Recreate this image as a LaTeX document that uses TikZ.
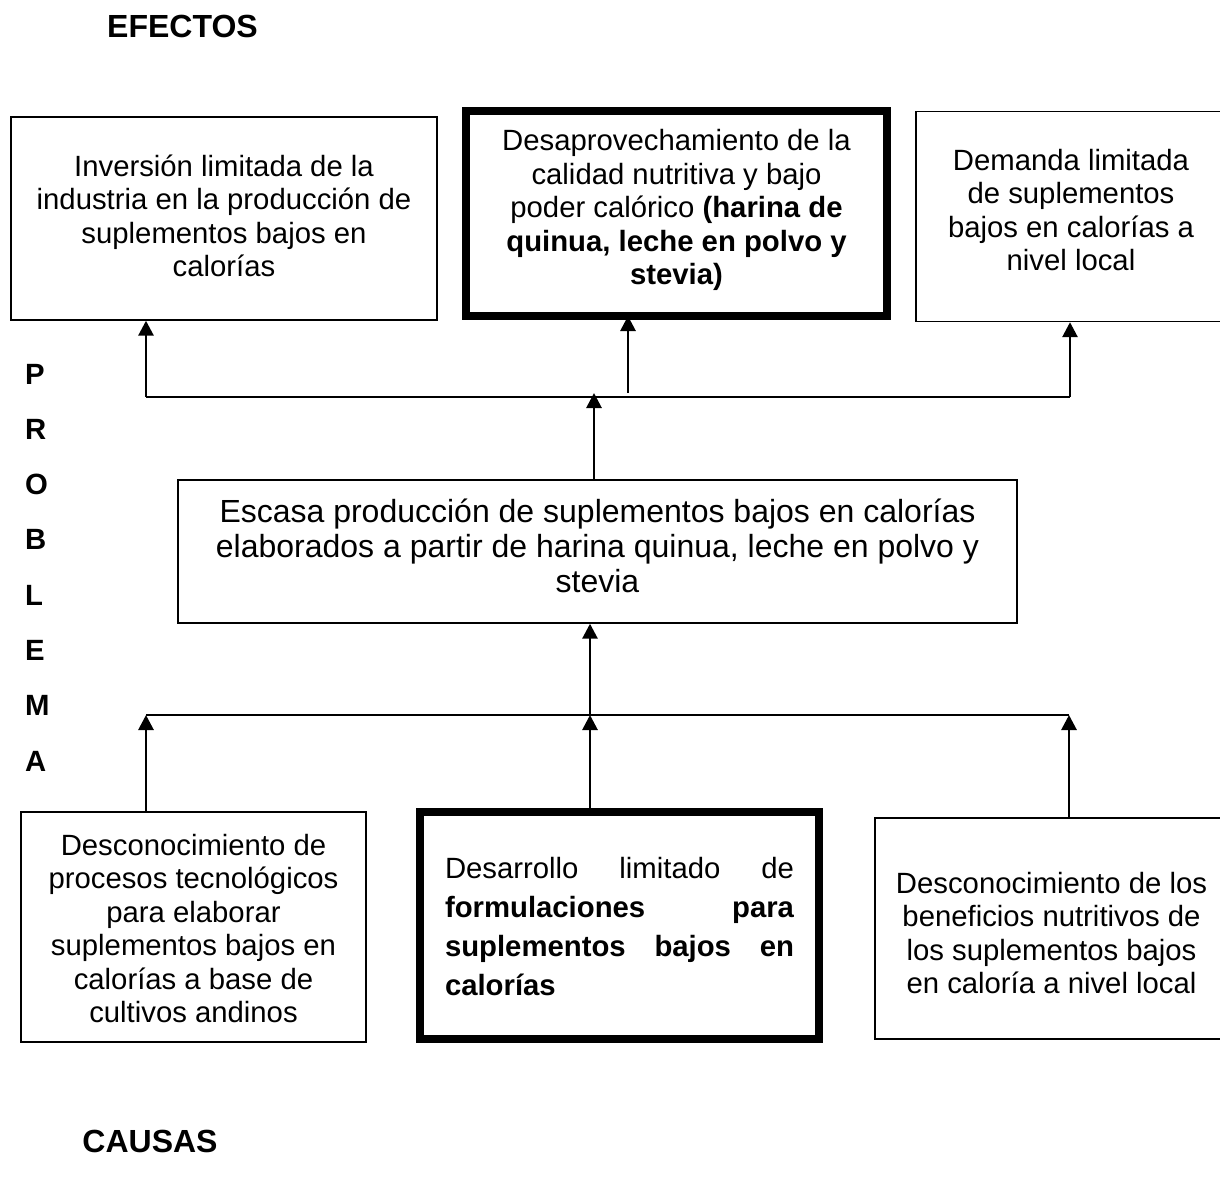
\documentclass[tikz,border=0pt]{standalone}
\usepackage{fontspec}
\setmainfont{Liberation Sans}
\usetikzlibrary{arrows.meta}
\begin{document}
\begin{tikzpicture}[x=1pt,y=-1pt,
  box/.style={draw, line width=1.4pt, inner sep=0pt},
  thickbox/.style={draw, line width=7.5pt, inner sep=0pt},
  txt/.style={inner sep=0pt, align=center, font=\fontsize{29.3}{33.5}\selectfont},
  bigtxt/.style={inner sep=0pt, align=center, font=\fontsize{32}{35}\selectfont},
  arr/.style={line width=2.8pt, -{Triangle[length=15pt,width=15pt]}},
  hline/.style={line width=2pt},
  head/.style={inner sep=0pt, font=\bfseries\fontsize{32}{36}\selectfont},
  letter/.style={inner sep=0pt, anchor=west, font=\bfseries\fontsize{29.3}{33}\selectfont}]
\useasboundingbox (0,0) rectangle (1220,1185);
\clip (0,0) rectangle (1220,1185);

% headings
\node[head] (efectos) at (182.5,26) {EFECTOS};
\node[head] (causas) at (150,1141) {CAUSAS};
\foreach \l [count=\i] in {P,R,O,B,L,E,M,A}
  \node[letter] (p\i) at (25,{374+55.3*(\i-1)}) {\l};

% effects
\node[box, minimum width=426pt, minimum height=203pt] (A) at (224,218.5) {};
\node[txt] (At) at (224,216) {Inversión limitada de la\\industria en la producción de\\suplementos bajos en\\calorías};
\node[thickbox, minimum width=421pt, minimum height=205pt] (B) at (676.5,213.5) {};
\node[txt] (Bt) at (676.5,210) {Desaprovechamiento de la\\calidad nutritiva y bajo\\poder calórico \textbf{(harina de}\\\textbf{quinua, leche en polvo y}\\\textbf{stevia)}};
\node[box, minimum width=310pt, minimum height=210pt] (C) at (1071,216.5) {};
\node[txt] (Ct) at (1071,210) {Demanda limitada\\de suplementos\\bajos en calorías a\\nivel local};

% problem
\node[box, minimum width=839pt, minimum height=143pt] (E) at (597.5,551.5) {};
\node[bigtxt] (Et) at (597.5,546) {Escasa producción de suplementos bajos en calorías\\elaborados a partir de harina quinua, leche en polvo y\\stevia};

% causes
\node[box, minimum width=345pt, minimum height=230pt] (D1) at (193.5,927) {};
\node[txt] (D1t) at (193.5,928.5) {Desconocimiento de\\procesos tecnológicos\\para elaborar\\suplementos bajos en\\calorías a base de\\cultivos andinos};
\node[thickbox, minimum width=399pt, minimum height=227pt] (D2) at (619.5,925.5) {};
\node[inner sep=0pt, font=\fontsize{29.3}{39}\selectfont] (D2t) at (619.5,927) {\parbox{349pt}{%
  \hbox to 349pt{Desarrollo\hfill limitado\hfill de}\par
  \hbox to 349pt{\bfseries formulaciones\hfill para}\par
  \hbox to 349pt{\bfseries suplementos\hfill bajos\hfill en}\par
  \hbox to 349pt{\bfseries calorías\hfill}}};
\node[box, minimum width=353pt, minimum height=221pt] (D3) at (1051.5,928.5) {};
\node[txt] (D3t) at (1051.5,933) {Desconocimiento de los\\beneficios nutritivos de\\los suplementos bajos\\en caloría a nivel local};

% upper connectors
\coordinate (tl) at (146,397);
\coordinate (tr) at (1070,397);
\coordinate (tm) at (628,393);
\coordinate (te) at (594,393);
\draw[hline] (tl) -- (tr);
\draw[arr] (tl) -- (tl |- A.south);
\draw[arr] (tr) -- (tr |- C.south);
\draw[arr, shorten >=-3.75pt] (tm) -- (tm |- B.south);
\draw[arr] (te |- E.north) -- (te);

% lower connectors
\coordinate (bl) at (146,715);
\coordinate (br) at (1069,715);
\coordinate (bm) at (590,715);
\draw[hline] (bl) -- (br);
\draw[arr] (bl |- D1.north) -- (bl);
\draw[arr, shorten <=-3.75pt] (bm |- D2.north) -- (bm);
\draw[arr] (br |- D3.north) -- (br);
\draw[arr] (bm) -- (bm |- E.south);
\end{tikzpicture}
\end{document}
